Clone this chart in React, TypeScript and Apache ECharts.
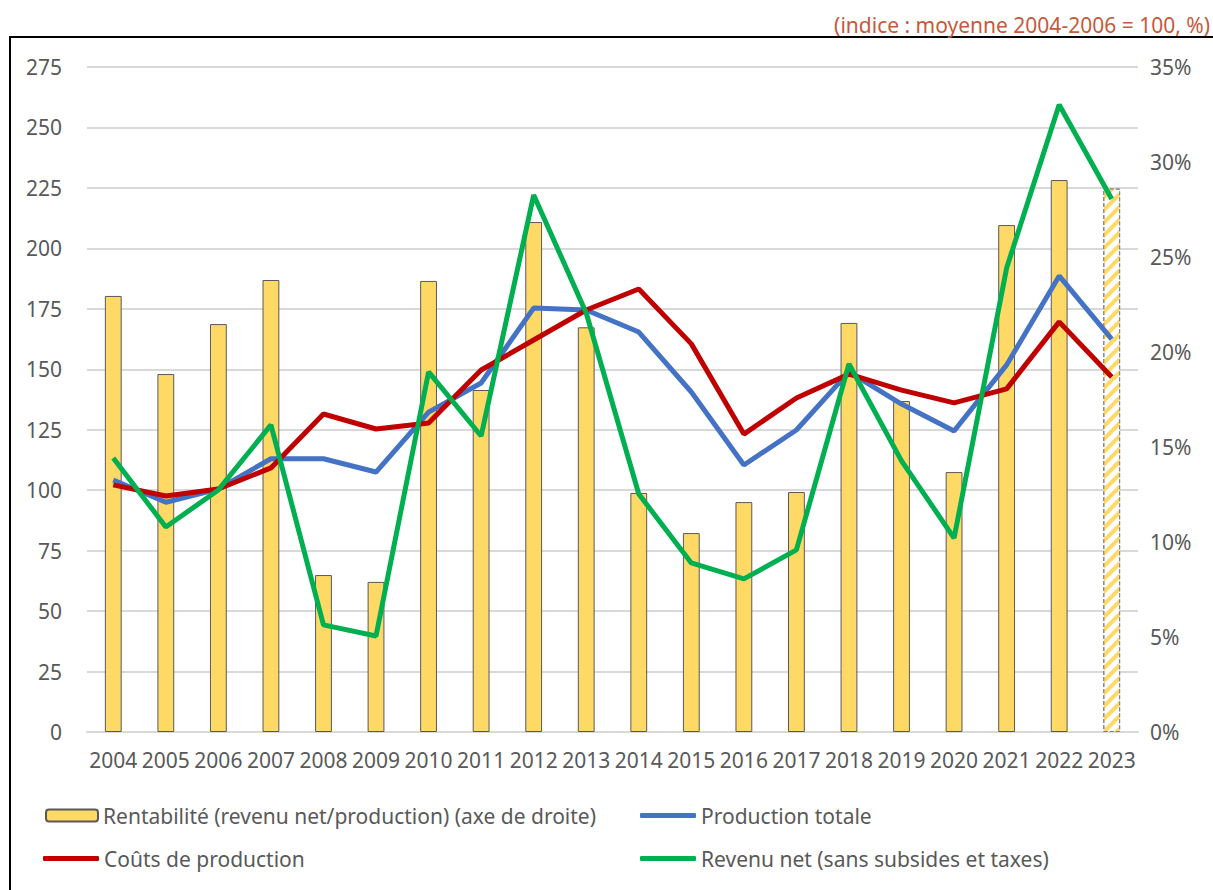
import React, { useEffect, useRef } from "react";
import * as echarts from "echarts";

const years = ["2004","2005","2006","2007","2008","2009","2010","2011","2012","2013","2014","2015","2016","2017","2018","2019","2020","2021","2022","2023"];
const rentabilite = [22.95, 18.84, 21.47, 23.79, 8.26, 7.9, 23.74, 18.0, 26.84, 21.3, 12.58, 10.47, 12.1, 12.63, 21.53, 17.42, 13.68, 26.68, 29.05, 28.6];
const production = [104.2, 95, 100.5, 113, 113, 107.5, 132.3, 144.3, 175.3, 174.5, 165.4, 140.6, 110.4, 124.9, 148.9, 135.6, 124.5, 151.8, 188.6, 162.5];
const couts = [102.2, 97.6, 100.5, 109.2, 131.5, 125.3, 127.8, 149.7, 162.1, 174.5, 183.2, 160.5, 123.2, 138.1, 148, 141.4, 136.1, 141.9, 169.6, 146.8];
const revenu = [113.3, 84.8, 100.1, 127, 44.3, 39.7, 148.9, 122.4, 222.1, 173.3, 98.4, 69.9, 63.3, 75.3, 152.2, 112.1, 80.2, 191.9, 259.4, 220.4];

const names = [
  "Rentabilité (revenu net/production) (axe de droite)",
  "Production totale",
  "Coûts de production",
  "Revenu net (sans subsides et taxes)",
];
const titleText = "(indice : moyenne 2004-2006 = 100, %)";

const FONT = "Noto Sans";
const TXT = "#595959";

export default function App() {
  const ref = useRef<HTMLDivElement>(null);
  useEffect(() => {
    document.body.style.margin = "0";
    const chart = echarts.init(ref.current!, null, { renderer: "svg" });
    const barData = rentabilite.map((v, i) =>
      i === years.length - 1
        ? {
            value: v,
            itemStyle: {
              color: "#ffffff",
              borderColor: "#7F7F7F",
              borderType: "dashed",
              borderWidth: 1,
              decal: {
                symbol: "rect",
                color: "#FFD966",
                backgroundColor: "#ffffff",
                dashArrayX: [1, 0],
                dashArrayY: [4, 5],
                rotation: -Math.PI / 4,
                symbolSize: 1,
              },
            },
          }
        : v
    );
    const legendText = { fontFamily: FONT, fontSize: 21, color: TXT };
    const mkLegend = (name: string, left: number, top: number, isLine: boolean) => ({
      show: true,
      data: [isLine ? { name, icon: "roundRect" } : { name }],
      left,
      top,
      itemWidth: isLine ? 56 : 52,
      itemHeight: isLine ? 5 : 12,
      itemGap: 0,
      textStyle: legendText,
      selectedMode: false,
    });
    chart.setOption({
      animation: false,
      backgroundColor: "#ffffff",
      textStyle: { fontFamily: FONT },
      title: {
        text: titleText,
        right: -2,
        top: 9,
        textStyle: { fontFamily: FONT, fontSize: 21, fontWeight: "normal", color: "#C55A3C" },
      },
      graphic: [
        {
          type: "rect",
          shape: { x: 10, y: 37, width: 1230, height: 900 },
          style: { fill: "none", stroke: "#000000", lineWidth: 2 },
          silent: true,
        },
      ],
      legend: [
        mkLegend(names[0], 40, 800, false),
        mkLegend(names[1], 635, 800, true),
        mkLegend(names[2], 38, 843, true),
        mkLegend(names[3], 635, 843, true),
      ],
      grid: { left: 87, right: 75, top: 67, bottom: 158, containLabel: false },
      xAxis: {
        type: "category",
        data: years,
        axisLine: { show: true, lineStyle: { color: "#D9D9D9", width: 2 } },
        axisTick: { show: false },
        axisLabel: { fontFamily: FONT, fontSize: 21, color: TXT, margin: 17, interval: 0 },
      },
      yAxis: [
        {
          type: "value",
          min: 0,
          max: 275,
          interval: 25,
          axisLine: { show: false },
          axisTick: { show: false },
          splitLine: { lineStyle: { color: "#D9D9D9", width: 2 } },
          axisLabel: { fontFamily: FONT, fontSize: 21, color: TXT, margin: 25 },
        },
        {
          type: "value",
          min: 0,
          max: 35,
          interval: 5,
          axisLine: { show: false },
          axisTick: { show: false },
          splitLine: { show: false },
          axisLabel: { fontFamily: FONT, fontSize: 21, color: TXT, margin: 12, formatter: "{value}%" },
        },
      ],
      series: [
        {
          name: names[0],
          type: "bar",
          yAxisIndex: 1,
          data: barData,
          barWidth: "32%",
          itemStyle: { color: "#FFD966", borderColor: "#595959", borderWidth: 1 },
          z: 1,
        },
        {
          name: names[1],
          type: "line",
          data: production,
          symbol: "none",
          lineStyle: { color: "#4472C4", width: 5 },
          itemStyle: { color: "#4472C4" },
          z: 3,
        },
        {
          name: names[2],
          type: "line",
          data: couts,
          symbol: "none",
          lineStyle: { color: "#C00000", width: 5 },
          itemStyle: { color: "#C00000" },
          z: 4,
        },
        {
          name: names[3],
          type: "line",
          data: revenu,
          symbol: "none",
          lineStyle: { color: "#00B050", width: 5 },
          itemStyle: { color: "#00B050" },
          z: 5,
        },
      ],
    });
    return () => chart.dispose();
  }, []);
  return <div ref={ref} style={{ width: 1213, height: 890 }} />;
}
